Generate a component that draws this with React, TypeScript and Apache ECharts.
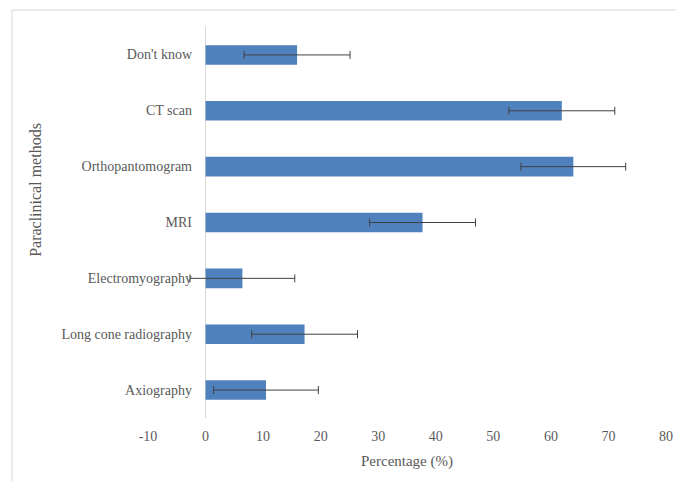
import React, { useEffect, useRef } from "react";
import * as echarts from "echarts";

// Paraclinical methods, listed top to bottom
const categories = [
  "Don't know",
  "CT scan",
  "Orthopantomogram",
  "MRI",
  "Electromyography",
  "Long cone radiography",
  "Axiography",
];
// Share of respondents (%)
const percentages = [15.9, 61.9, 63.9, 37.7, 6.4, 17.2, 10.5];
// Error margin (±, percentage points)
const errors = [9.2, 9.2, 9.1, 9.2, 9.1, 9.2, 9.1];
// Value axis ticks
const xMin = -10;
const xMax = 80;
const xStep = 10;

const FONT = "'Liberation Serif', 'Times New Roman', serif";
const TEXT = "#595959";

export default function App() {
  const ref = useRef<HTMLDivElement>(null);

  useEffect(() => {
    if (!ref.current) return;
    const chart = echarts.init(ref.current, undefined, { renderer: "svg" });

    const errData = categories.map((_, i) => [percentages[i], i, errors[i]]);

    chart.setOption({
      animation: false,
      backgroundColor: "#ffffff",
      textStyle: { fontFamily: FONT },
      grid: { left: 148, right: 8, top: 27, bottom: 63, containLabel: false },
      graphic: [
        {
          type: "rect",
          shape: { x: 12, y: 10, width: 720, height: 520 },
          style: { fill: "none", stroke: "#d9d9d9", lineWidth: 1 },
          silent: true,
          z: -1,
        },
        {
          type: "text",
          x: 35,
          y: 190,
          rotation: Math.PI / 2,
          style: {
            text: "Paraclinical methods",
            fontFamily: FONT,
            fontSize: 16,
            fill: TEXT,
            align: "center",
            verticalAlign: "middle",
          },
        },
      ],
      xAxis: {
        type: "value",
        min: xMin,
        max: xMax,
        interval: xStep,
        splitLine: { show: false },
        axisLine: { show: false },
        axisTick: { show: false },
        axisLabel: { color: TEXT, fontSize: 14, fontFamily: FONT, margin: 11 },
        name: "Percentage (%)",
        nameLocation: "middle",
        nameGap: 35,
        nameTextStyle: { color: TEXT, fontSize: 15, fontFamily: FONT },
      },
      yAxis: {
        type: "category",
        data: categories,
        inverse: true,
        axisLine: { show: true, onZero: true, lineStyle: { color: "#d9d9d9", width: 1 } },
        axisTick: { show: false },
        // labels sit just left of the zero line, not the plot's left edge
        axisLabel: { color: TEXT, fontSize: 14, fontFamily: FONT, margin: -44 },
      },
      series: [
        {
          type: "bar",
          data: percentages,
          barWidth: "35%",
          itemStyle: { color: "#4f81bd" },
        },
        {
          type: "custom",
          data: errData,
          encode: { x: 0, y: 1 },
          z: 5,
          renderItem: (params: any, api: any) => {
            const v = api.value(0);
            const idx = api.value(1);
            const e = api.value(2);
            const p1 = api.coord([v - e, idx]);
            const p2 = api.coord([v + e, idx]);
            const h = 4;
            const style = { stroke: "#404040", lineWidth: 1 };
            return {
              type: "group",
              children: [
                { type: "line", shape: { x1: p1[0], y1: p1[1], x2: p2[0], y2: p2[1] }, style },
                { type: "line", shape: { x1: p1[0], y1: p1[1] - h, x2: p1[0], y2: p1[1] + h }, style },
                { type: "line", shape: { x1: p2[0], y1: p2[1] - h, x2: p2[0], y2: p2[1] + h }, style },
              ],
            };
          },
        },
      ],
    });

    return () => chart.dispose();
  }, []);

  return (
    <div
      ref={ref}
      style={{ position: "fixed", left: 0, top: 0, width: 676, height: 481 }}
    />
  );
}
